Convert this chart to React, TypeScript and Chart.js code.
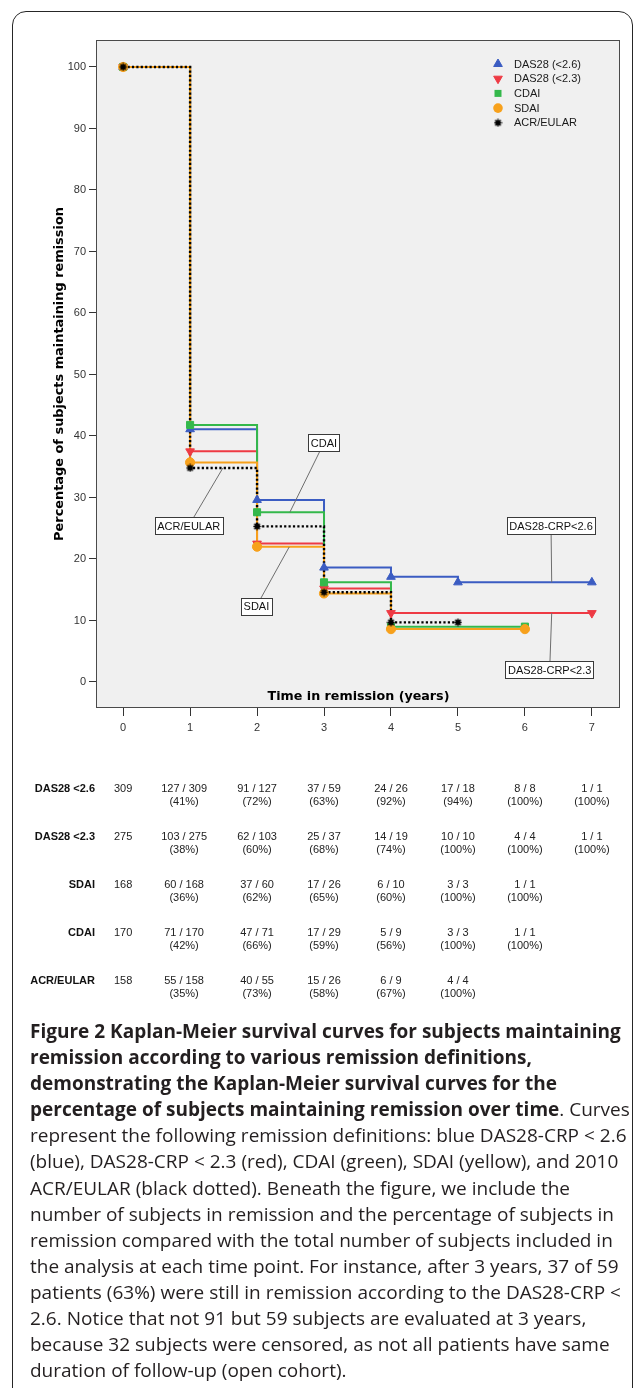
import React, { useEffect, useRef } from 'react';
import { Chart, registerables } from 'chart.js';

Chart.register(...registerables);

// ---------------- data ----------------
const YEARS = [0, 1, 2, 3, 4, 5, 6, 7];
const X_TICKS = [0, 1, 2, 3, 4, 5, 6, 7];
const Y_TICKS = [0, 10, 20, 30, 40, 50, 60, 70, 80, 90, 100];

const LEGEND_LABELS = ['DAS28 (<2.6)', 'DAS28 (<2.3)', 'CDAI', 'SDAI', 'ACR/EULAR'];

// Percentage of subjects maintaining remission at each year
const DAS28_26 = [100, 41.1, 29.6, 18.6, 17.1, 16.2, 16.2, 16.2];
const DAS28_23 = [100, 37.5, 22.5, 15.2, 11.2, 11.2, 11.2, 11.2];
const CDAI_VALUES = [100, 41.8, 27.6, 16.2, 9.0, 9.0, 9.0];
const SDAI_VALUES = [100, 35.7, 22.0, 14.4, 8.6, 8.6, 8.6];
const ACR_EULAR = [100, 34.8, 25.3, 14.6, 9.7, 9.7];

// 1 = a marker is shown at that year
const DAS28_26_MARKS = [1, 1, 1, 1, 1, 1, 0, 1];
const DAS28_23_MARKS = [1, 1, 1, 1, 1, 0, 0, 1];
const CDAI_MARKS = [1, 1, 1, 1, 1, 0, 1];
const SDAI_MARKS = [1, 1, 1, 1, 1, 0, 1];
const ACR_MARKS = [1, 1, 1, 1, 1, 1];

// Callout labels on the curves
const CALLOUT_LABELS = ['CDAI', 'ACR/EULAR', 'SDAI', 'DAS28-CRP<2.6', 'DAS28-CRP<2.3'];

// Table under the figure
const TABLE_LABELS = ['DAS28 <2.6', 'DAS28 <2.3', 'SDAI', 'CDAI', 'ACR/EULAR'];
const TABLE_BASELINE = [309, 275, 168, 170, 158];
const TABLE_REMAIN = [
  [127, 91, 37, 24, 17, 8, 1],
  [103, 62, 25, 14, 10, 4, 1],
  [60, 37, 17, 6, 3, 1],
  [71, 47, 17, 5, 3, 1],
  [55, 40, 15, 6, 4],
];
const TABLE_TOTAL = [
  [309, 127, 59, 26, 18, 8, 1],
  [275, 103, 37, 19, 10, 4, 1],
  [168, 60, 26, 10, 3, 1],
  [170, 71, 29, 9, 3, 1],
  [158, 55, 26, 9, 4],
];
const TABLE_PCT = [
  [41, 72, 63, 92, 94, 100, 100],
  [38, 60, 68, 74, 100, 100, 100],
  [36, 62, 65, 60, 100, 100],
  [42, 66, 59, 56, 100, 100],
  [35, 73, 58, 67, 100],
];

const CAPTION_LINES: Array<Array<[string, boolean]>> = [
  [['Figure 2 Kaplan-Meier survival curves for subjects maintaining', true]],
  [['remission according to various remission definitions,', true]],
  [['demonstrating the Kaplan-Meier survival curves for the', true]],
  [['percentage of subjects maintaining remission over time', true], ['. Curves', false]],
  [['represent the following remission definitions: blue DAS28-CRP < 2.6', false]],
  [['(blue), DAS28-CRP < 2.3 (red), CDAI (green), SDAI (yellow), and 2010', false]],
  [['ACR/EULAR (black dotted). Beneath the figure, we include the', false]],
  [['number of subjects in remission and the percentage of subjects in', false]],
  [['remission compared with the total number of subjects included in', false]],
  [['the analysis at each time point. For instance, after 3 years, 37 of 59', false]],
  [['patients (63%) were still in remission according to the DAS28-CRP <', false]],
  [['2.6. Notice that not 91 but 59 subjects are evaluated at 3 years,', false]],
  [['because 32 subjects were censored, as not all patients have same', false]],
  [['duration of follow-up (open cohort).', false]],
];

// ---------------- layout / style ----------------
const W = 633;
const H = 1388;
const CANVAS_H = 1010;
const BLUE = '#3b5cc2';
const RED = '#ee3a44';
const GREEN = '#34b84b';
const ORANGE = '#f7a11c';
const BLACK = '#000000';
const SANS = '"Liberation Sans", Arial, Helvetica, sans-serif';
const SPSS_BOLD = '"DejaVu Sans", Verdana, sans-serif';

// box centre and pointer target, in data units
const CALLOUT_BOX: Array<[number, number]> = [[3.0, 38.9], [0.98, 25.4], [1.99, 12.3], [6.39, 25.4], [6.37, 2.0]];
const CALLOUT_TARGET: Array<[number, number]> = [[2.49, 27.6], [1.49, 34.8], [2.48, 21.95], [6.4, 16.2], [6.4, 11.2]];

const TABLE_ROW_Y = [789, 837, 885, 933, 981];

function makeStarMarker(size: number): HTMLCanvasElement {
  const c = document.createElement('canvas');
  c.width = size;
  c.height = size;
  const g = c.getContext('2d')!;
  const m = size / 2;
  g.fillStyle = '#000';
  g.strokeStyle = '#000';
  g.lineWidth = 1.4;
  g.beginPath();
  g.arc(m, m, size * 0.28, 0, Math.PI * 2);
  g.fill();
  for (let k = 0; k < 8; k++) {
    const a = (k * Math.PI) / 4;
    g.beginPath();
    g.moveTo(m, m);
    g.lineTo(m + Math.cos(a) * (m - 0.6), m + Math.sin(a) * (m - 0.6));
    g.stroke();
  }
  return c;
}

function drawMarker(ctx: CanvasRenderingContext2D, kind: string, x: number, y: number, color: string, star: HTMLCanvasElement) {
  ctx.save();
  ctx.fillStyle = color;
  ctx.strokeStyle = color;
  ctx.lineWidth = 1;
  const r = 5;
  if (kind === 'up' || kind === 'down') {
    const s = kind === 'up' ? 1 : -1;
    ctx.beginPath();
    ctx.moveTo(x, y - s * r);
    ctx.lineTo(x + r * 0.866, y + s * r * 0.5);
    ctx.lineTo(x - r * 0.866, y + s * r * 0.5);
    ctx.closePath();
    ctx.fill();
    ctx.stroke();
  } else if (kind === 'square') {
    ctx.fillRect(x - 3.5, y - 3.5, 7, 7);
  } else if (kind === 'circle') {
    ctx.beginPath();
    ctx.arc(x, y, 4.8, 0, Math.PI * 2);
    ctx.fill();
  } else {
    ctx.drawImage(star, x - star.width / 2, y - star.height / 2);
  }
  ctx.restore();
}

function series(values: number[]) {
  return values.map((v, i) => ({ x: YEARS[i], y: v }));
}

function markedPoints(values: number[], marks: number[]) {
  return values.map((v, i) => ({ x: YEARS[i], y: v })).filter((_, i) => marks[i] === 1);
}

export default function App() {
  const ref = useRef<HTMLCanvasElement | null>(null);

  useEffect(() => {
    const canvas = ref.current;
    if (!canvas) return;
    const star = makeStarMarker(9);
    const legendKinds = ['up', 'down', 'square', 'circle', 'star'];
    const legendColors = [BLUE, RED, GREEN, ORANGE, BLACK];

    const overlay = {
      id: 'overlay',
      beforeDraw(chart: any) {
        const { ctx, chartArea: a } = chart;
        ctx.save();
        ctx.fillStyle = '#f0f0f0';
        ctx.fillRect(a.left, a.top, a.right - a.left, a.bottom - a.top);
        ctx.restore();
      },
      beforeDatasetsDraw(chart: any) {
        const { ctx, chartArea: a } = chart;
        ctx.save();
        ctx.strokeStyle = '#4a4a4a';
        ctx.lineWidth = 1;
        ctx.strokeRect(a.left - 0.5, a.top + 0.5, a.right - a.left, a.bottom - a.top - 1);
        ctx.restore();
      },
      afterDatasetsDraw(chart: any) {
        const { ctx, chartArea: a, scales } = chart;
        const xs = scales.x;
        const ys = scales.y;
        ctx.save();

        // callouts
        ctx.font = `11px ${SANS}`;
        ctx.textAlign = 'center';
        ctx.textBaseline = 'middle';
        CALLOUT_LABELS.forEach((label, i) => {
          const bx = xs.getPixelForValue(CALLOUT_BOX[i][0]);
          const by = ys.getPixelForValue(CALLOUT_BOX[i][1]);
          const tx = xs.getPixelForValue(CALLOUT_TARGET[i][0]);
          const ty = ys.getPixelForValue(CALLOUT_TARGET[i][1]);
          ctx.strokeStyle = '#6e6e6e';
          ctx.lineWidth = 1;
          ctx.beginPath();
          ctx.moveTo(bx, by);
          ctx.lineTo(tx, ty);
          ctx.stroke();
          const tw = ctx.measureText(label).width + 5;
          const bh = 17;
          ctx.fillStyle = '#ffffff';
          ctx.fillRect(Math.round(bx - tw / 2) + 0.5, Math.round(by - bh / 2) + 0.5, Math.round(tw), bh);
          ctx.strokeStyle = '#3a3a3a';
          ctx.strokeRect(Math.round(bx - tw / 2) + 0.5, Math.round(by - bh / 2) + 0.5, Math.round(tw), bh);
          ctx.fillStyle = '#111';
          ctx.fillText(label, bx, by + 1);
        });

        // legend
        ctx.textAlign = 'left';
        LEGEND_LABELS.forEach((label, i) => {
          const ly = a.top + 24 + i * 14.7;
          drawMarker(ctx, legendKinds[i], a.right - 122, ly, legendColors[i], star);
          ctx.fillStyle = '#1a1a1a';
          ctx.fillText(label, a.right - 106, ly + 0.5);
        });

        // x title (inside plot)
        ctx.font = `bold 12.7px ${SPSS_BOLD}`;
        ctx.fillStyle = '#000';
        ctx.textAlign = 'center';
        ctx.fillText('Time in remission (years)', (a.left + a.right) / 2, a.bottom - 11);

        // y title
        ctx.font = `bold 12.9px ${SPSS_BOLD}`;
        ctx.save();
        ctx.translate(60, (a.top + a.bottom) / 2);
        ctx.rotate(-Math.PI / 2);
        ctx.fillText('Percentage of subjects maintaining remission', 0, 0);
        ctx.restore();

        // table
        TABLE_LABELS.forEach((label, r) => {
          const y = TABLE_ROW_Y[r];
          ctx.font = `bold 11px ${SANS}`;
          ctx.fillStyle = '#111';
          ctx.textAlign = 'right';
          ctx.fillText(label, 95, y);
          ctx.font = `11px ${SANS}`;
          ctx.textAlign = 'center';
          ctx.fillStyle = '#222';
          ctx.fillText(String(TABLE_BASELINE[r]), xs.getPixelForValue(0), y);
          TABLE_REMAIN[r].forEach((n, c) => {
            const cx = xs.getPixelForValue(c + 1) - (c === 0 ? 6 : 0);
            ctx.fillText(`${n} / ${TABLE_TOTAL[r][c]}`, cx, y);
            ctx.fillText(`(${TABLE_PCT[r][c]}%)`, cx, y + 13);
          });
        });

        ctx.restore();
      },
    };

    const lineDs = (label: string, values: number[], color: string, order: number, extra: any = {}) => ({
      label,
      data: series(values),
      borderColor: color,
      backgroundColor: color,
      borderWidth: 2,
      stepped: 'before',
      fill: false,
      tension: 0,
      pointRadius: 0,
      order: order + 10,
      ...extra,
    });

    const markDs = (label: string, values: number[], marks: number[], color: string, style: any, radius: number, order: number, extra: any = {}) => ({
      label: label + ' markers',
      data: markedPoints(values, marks),
      showLine: false,
      borderColor: color,
      backgroundColor: color,
      pointStyle: style,
      pointRadius: radius,
      pointBackgroundColor: color,
      pointBorderColor: color,
      pointBorderWidth: 1,
      order,
      ...extra,
    });

    const chart = new Chart(canvas, {
      type: 'line',
      data: {
        datasets: [
          lineDs(LEGEND_LABELS[0], DAS28_26, BLUE, 4),
          lineDs(LEGEND_LABELS[1], DAS28_23, RED, 3),
          lineDs(LEGEND_LABELS[2], CDAI_VALUES, GREEN, 2),
          lineDs(LEGEND_LABELS[3], SDAI_VALUES, ORANGE, 1),
          lineDs(LEGEND_LABELS[4], ACR_EULAR, BLACK, 0, { borderDash: [2.2, 2.2], borderWidth: 2.4 }),
          markDs(LEGEND_LABELS[0], DAS28_26, DAS28_26_MARKS, BLUE, 'triangle', 5, 4),
          markDs(LEGEND_LABELS[1], DAS28_23, DAS28_23_MARKS, RED, 'triangle', 5, 3, { pointRotation: 180 }),
          markDs(LEGEND_LABELS[2], CDAI_VALUES, CDAI_MARKS, GREEN, 'rect', 5, 2),
          markDs(LEGEND_LABELS[3], SDAI_VALUES, SDAI_MARKS, ORANGE, 'circle', 4.6, 1),
          markDs(LEGEND_LABELS[4], ACR_EULAR, ACR_MARKS, BLACK, star, 4, 0),
        ] as any,
      },
      options: {
        animation: false,
        responsive: false,
        maintainAspectRatio: false,
        devicePixelRatio: 1,
        layout: { padding: { top: 40, right: 13, bottom: CANVAS_H - 708 - 40, left: 0 } },
        plugins: { legend: { display: false }, tooltip: { enabled: false } },
        scales: {
          x: {
            type: 'linear',
            min: -0.39,
            max: 7.42,
            afterBuildTicks: (s: any) => {
              s.ticks = X_TICKS.map((v) => ({ value: v }));
            },
            afterFit: (s: any) => {
              s.height = 40;
            },
            grid: { drawOnChartArea: false, drawTicks: true, tickLength: 8, color: '#333', lineWidth: 1 },
            border: { display: false },
            ticks: { font: { family: SANS, size: 11 }, color: '#333', padding: 5, maxRotation: 0, autoSkip: false },
          },
          y: {
            type: 'linear',
            min: -4.23,
            max: 104.39,
            afterBuildTicks: (s: any) => {
              s.ticks = Y_TICKS.map((v) => ({ value: v }));
            },
            afterFit: (s: any) => {
              s.width = 97;
            },
            grid: { drawOnChartArea: false, drawTicks: true, tickLength: 8, color: '#333', lineWidth: 1 },
            border: { display: false },
            ticks: { font: { family: SANS, size: 11 }, color: '#333', padding: 3, autoSkip: false },
          },
        },
      } as any,
      plugins: [overlay as any],
    });

    return () => chart.destroy();
  }, []);

  return (
    <div style={{ position: 'fixed', left: 0, top: 0, width: W, height: H, overflow: 'hidden', background: '#fff' }}>
      <canvas
        ref={ref}
        width={W}
        height={CANVAS_H}
        style={{ position: 'absolute', left: 0, top: 0, width: W, height: CANVAS_H }}
      />
      <div
        style={{
          position: 'absolute',
          left: 12,
          top: 11,
          width: 621,
          height: 1420,
          border: '1.5px solid #262626',
          borderRadius: 14,
          boxSizing: 'border-box',
          pointerEvents: 'none',
        }}
      />
      <div
        style={{
          position: 'absolute',
          left: 30,
          top: 1018,
          fontFamily: '"Open Sans", "Noto Sans", sans-serif',
          fontSize: 19,
          lineHeight: '26.1px',
          color: '#231f20',
          whiteSpace: 'nowrap',
        }}
      >
        {CAPTION_LINES.map((line, i) => (
          <div key={i}>
            {line.map(([t, b], j) => (
              <span key={j} style={{ fontWeight: b ? 700 : 400 }}>
                {t}
              </span>
            ))}
          </div>
        ))}
      </div>
    </div>
  );
}
